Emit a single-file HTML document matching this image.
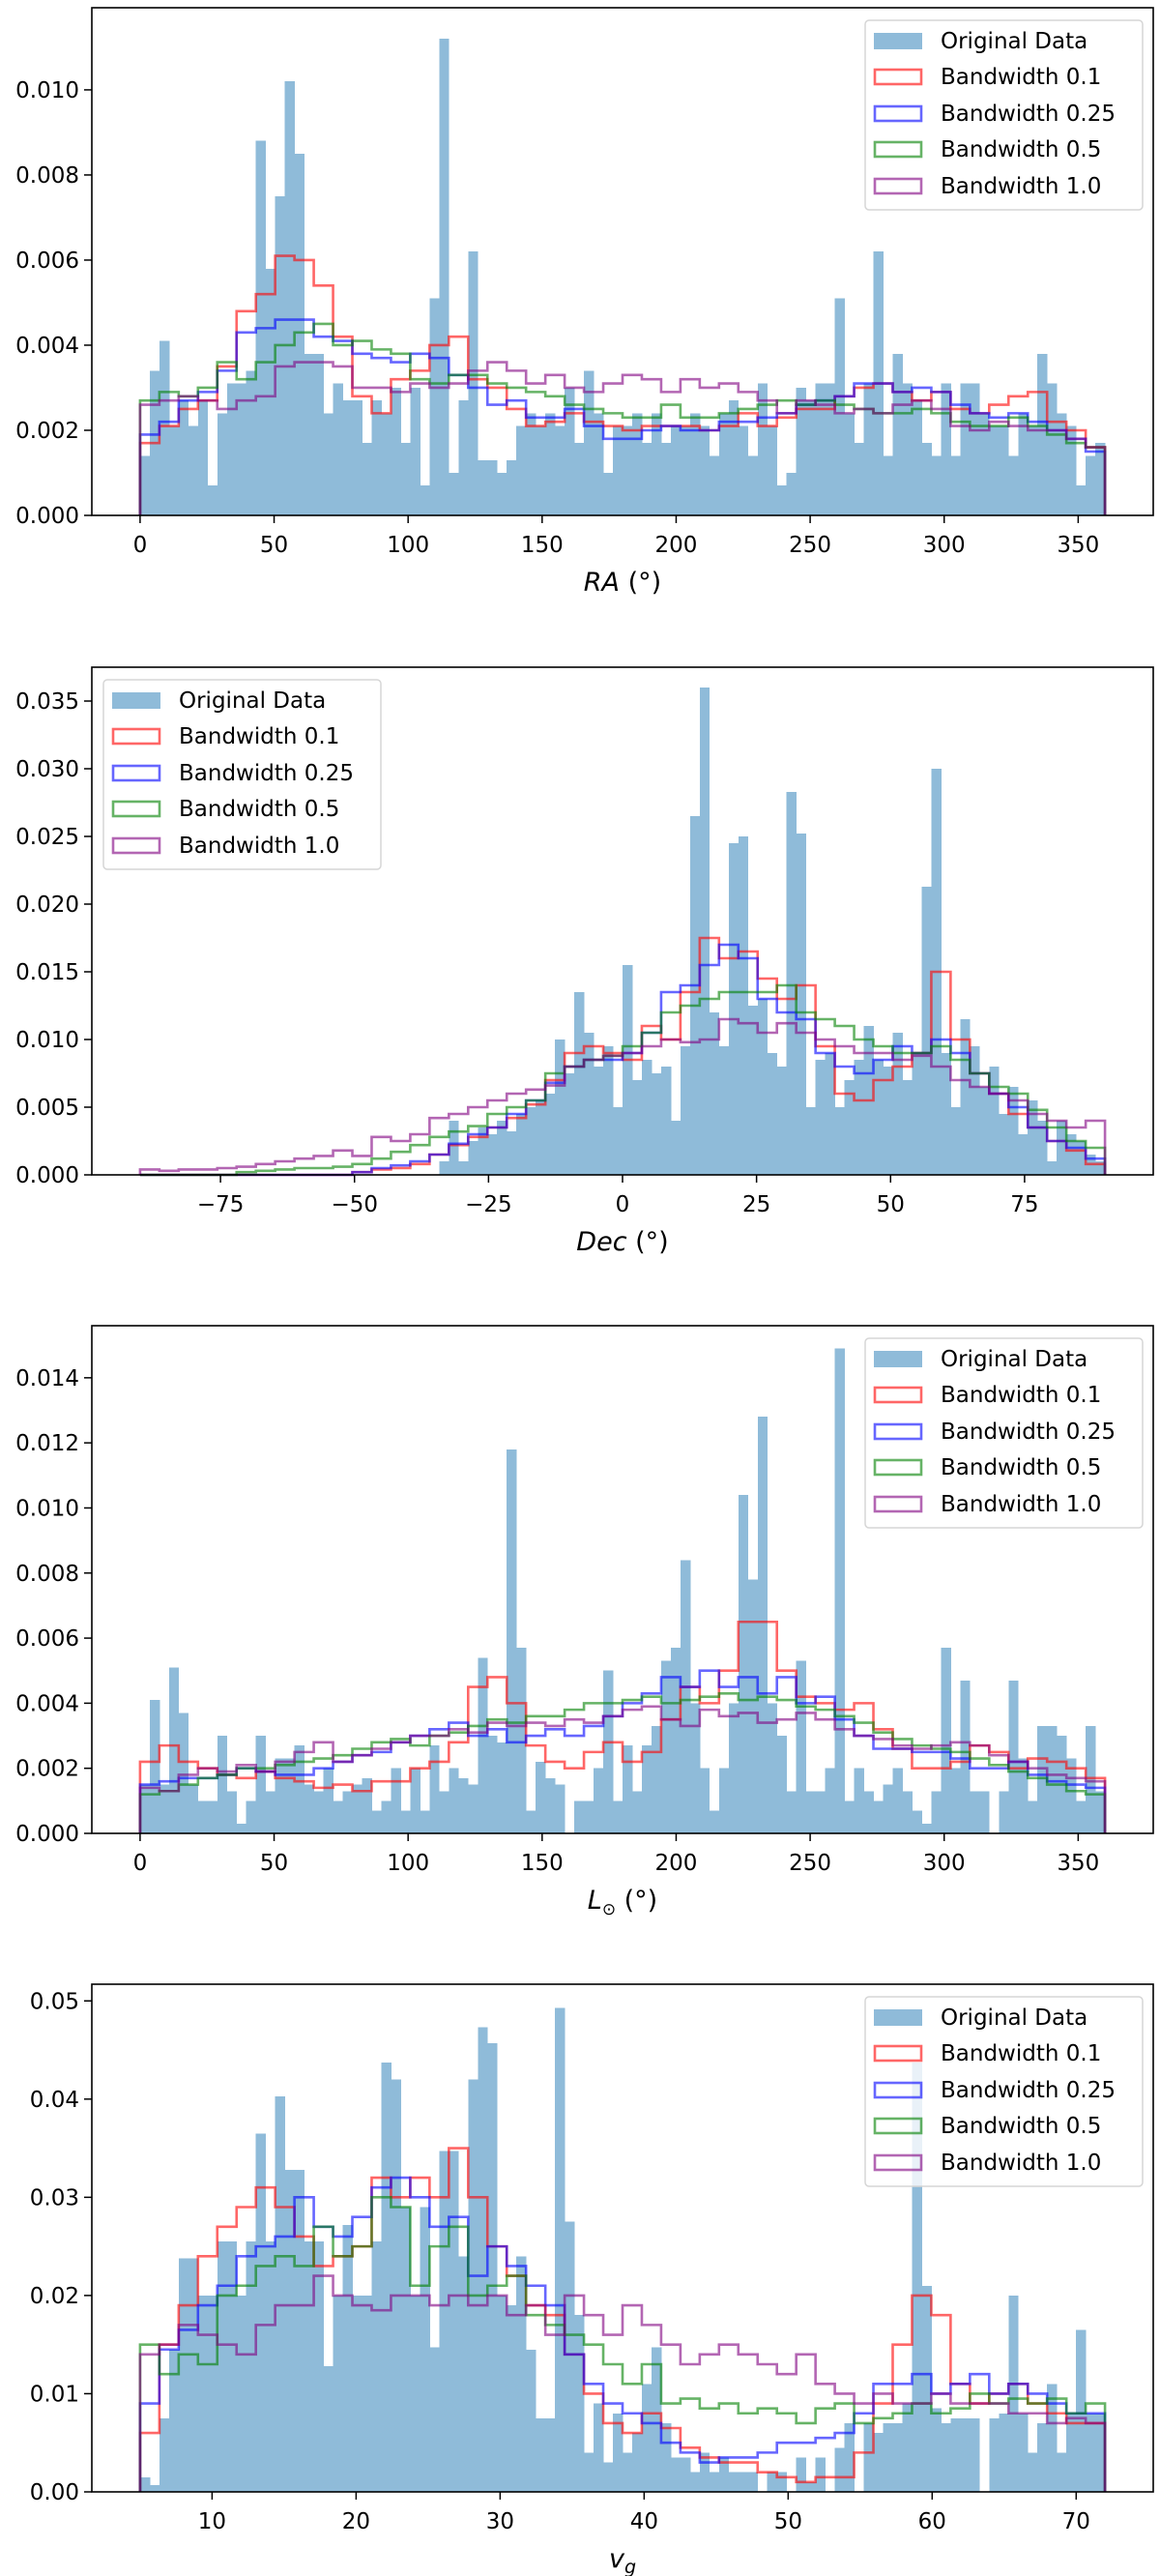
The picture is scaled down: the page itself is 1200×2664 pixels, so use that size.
<!DOCTYPE html>
<html><head><meta charset="utf-8"><title>KDE bandwidth histograms</title>
<style>
html,body{margin:0;padding:0;background:#fff;}
svg{display:block;font-family:"DejaVu Sans","Liberation Sans",sans-serif;}
</style></head>
<body>
<svg id="fig" width="1200" height="2664" viewBox="0 0 1200 2664" xmlns="http://www.w3.org/2000/svg"></svg>
<script>
// ---------- Panel 1: RA ----------
const raBars = [0.0014,0.0034,0.0041,0.0021,0.0027,0.0021,0.0027,0.0007,0.0024,0.0031,0.0031,0.0034,
0.0088,0.0058,0.0075,0.0102,0.0085,
0.0038,0.0038,0.0024,0.0031,0.0027,0.0027,0.0017,0.0027,0.0024,0.0030,0.0017,0.0030,
0.0007,0.0051,0.0112,0.0010,0.0027,0.0062,
0.0013,0.0013,0.0010,0.0013,0.0021,0.0024,0.0021,0.0024,0.0021,0.0030,0.0017,0.0034,0.0024,0.0010,0.0021,0.0021,0.0024,0.0017,0.0024,0.0017,0.0021,0.0021,0.0024,0.0021,0.0014,0.0024,0.0027,0.0021,0.0014,
0.0031,0.0021,0.0007,0.0010,0.0030,0.0027,0.0031,0.0031,0.0051,0.0024,0.0017,0.0031,0.0062,0.0014,0.0038,0.0031,0.0027,0.0017,0.0014,0.0031,0.0014,0.0031,0.0031,0.0024,0.0021,0.0021,0.0014,0.0024,0.0021,0.0038,0.0031,0.0024,0.0021,0.0007,0.0014,0.0017];
const raRed = [0.0017,0.0021,0.0025,0.0027,0.0035,0.0048,0.0052,0.0061,0.0060,0.0054,0.0042,0.0028,0.0024,0.0032,0.0034,0.0040,0.0042,0.0032,0.0030,0.0025,0.0021,0.0022,0.0024,0.0022,0.0021,0.0020,0.0021,0.0021,0.0021,0.0020,0.0021,0.0024,0.0021,0.0023,0.0025,0.0025,0.0028,0.0030,0.0031,0.0029,0.0027,0.0029,0.0025,0.0024,0.0026,0.0028,0.0029,0.0022,0.0020,0.0016];
const raBlue = [0.0019,0.0022,0.0027,0.0029,0.0034,0.0043,0.0044,0.0046,0.0046,0.0042,0.0041,0.0038,0.0037,0.0036,0.0038,0.0037,0.0033,0.0030,0.0026,0.0027,0.0023,0.0023,0.0025,0.0021,0.0018,0.0018,0.0020,0.0021,0.0020,0.0020,0.0022,0.0022,0.0023,0.0024,0.0026,0.0027,0.0028,0.0031,0.0031,0.0029,0.0030,0.0029,0.0026,0.0024,0.0023,0.0024,0.0022,0.0020,0.0018,0.0015];
const raGreen = [0.0027,0.0029,0.0028,0.0030,0.0036,0.0032,0.0036,0.0040,0.0043,0.0045,0.0040,0.0041,0.0039,0.0038,0.0032,0.0031,0.0033,0.0033,0.0031,0.0030,0.0029,0.0028,0.0026,0.0025,0.0024,0.0023,0.0023,0.0026,0.0023,0.0023,0.0024,0.0025,0.0026,0.0027,0.0026,0.0027,0.0026,0.0025,0.0024,0.0024,0.0025,0.0024,0.0022,0.0021,0.0021,0.0023,0.0021,0.0019,0.0017,0.0016];
const raPurple = [0.0026,0.0027,0.0028,0.0027,0.0025,0.0027,0.0028,0.0035,0.0036,0.0036,0.0035,0.0030,0.0030,0.0029,0.0031,0.0030,0.0031,0.0034,0.0036,0.0034,0.0031,0.0033,0.0030,0.0029,0.0031,0.0033,0.0032,0.0029,0.0032,0.0030,0.0031,0.0029,0.0027,0.0024,0.0027,0.0026,0.0024,0.0025,0.0024,0.0026,0.0027,0.0025,0.0021,0.0020,0.0022,0.0021,0.0020,0.0020,0.0018,0.0016];
const raYTicks = [0,0.002,0.004,0.006,0.008,0.010];
const raYTickLabels = ["0.000","0.002","0.004","0.006","0.008","0.010"];
const raXTicks = [0,50,100,150,200,250,300,350];
const raXTickLabels = ["0","50","100","150","200","250","300","350"];

// ---------- Panel 2: Dec ----------
const decBars = [0,0,0,0,0,0,0,0,0,0,0,0,0,0,0,0,0,0,0,0,0,0,0,0,0,0,0,0,0,0,0,
0.0010,0.0040,0.0010,0.0025,0.0035,0.0030,0.0040,0.0032,0.0045,0.0050,0.0055,0.0060,0.0100,0.0075,0.0135,0.0105,0.0080,0.0095,
0.0050,0.0155,0.0070,0.0085,0.0075,0.0080,0.0040,0.0095,0.0265,0.0360,0.0120,0.0095,0.0245,0.0250,0.0125,0.0130,0.0090,0.0080,0.0283,0.0252,0.0050,0.0085,0.0090,0.0050,0.0070,0.0085,0.0110,0.0085,0.0080,0.0105,0.0070,0.0090,0.0213,0.0300,0.0090,0.0050,0.0115,0.0095,0.0065,0.0080,0.0045,0.0065,0.0030,0.0055,0.0040,0.0010,0.0040,0.0030,0.0025,0.0015,0.0010];
const decRed = [0,0,0,0,0,0,0,0,0,0,0,0.0002,0.0004,0.0005,0.0008,0.0015,0.0022,0.0028,0.0035,0.0042,0.0052,0.0070,0.0090,0.0095,0.0090,0.0085,0.0110,0.0100,0.0135,0.0175,0.0160,0.0165,0.0145,0.0130,0.0140,0.0095,0.0060,0.0055,0.0070,0.0080,0.0090,0.0150,0.0100,0.0075,0.0060,0.0045,0.0035,0.0025,0.0018,0.0008];
const decBlue = [0,0,0,0,0,0,0,0,0,0,0,0.0002,0.0005,0.0007,0.0010,0.0015,0.0023,0.0030,0.0035,0.0045,0.0055,0.0068,0.0080,0.0085,0.0085,0.0090,0.0105,0.0135,0.0140,0.0155,0.0170,0.0160,0.0130,0.0120,0.0115,0.0090,0.0080,0.0075,0.0085,0.0095,0.0090,0.0100,0.0090,0.0075,0.0060,0.0050,0.0035,0.0025,0.0020,0.0012];
const decGreen = [0,0,0,0,0,0.0002,0.0003,0.0004,0.0005,0.0005,0.0006,0.0008,0.0012,0.0017,0.0022,0.0028,0.0032,0.0036,0.0045,0.0050,0.0055,0.0075,0.0080,0.0085,0.0088,0.0095,0.0105,0.0120,0.0125,0.0130,0.0135,0.0135,0.0135,0.0140,0.0120,0.0115,0.0110,0.0100,0.0095,0.0090,0.0090,0.0095,0.0085,0.0075,0.0065,0.0060,0.0048,0.0035,0.0025,0.0020];
const decPurple = [0.0004,0.0003,0.0004,0.0004,0.0005,0.0006,0.0008,0.0010,0.0012,0.0014,0.0018,0.0014,0.0028,0.0025,0.0030,0.0042,0.0045,0.0050,0.0055,0.0060,0.0063,0.0066,0.0080,0.0085,0.0088,0.0090,0.0095,0.0100,0.0098,0.0100,0.0115,0.0112,0.0105,0.0112,0.0105,0.0100,0.0095,0.0090,0.0090,0.0085,0.0088,0.0080,0.0070,0.0065,0.0060,0.0055,0.0045,0.0040,0.0035,0.0040];
const decYTicks = [0,0.005,0.010,0.015,0.020,0.025,0.030,0.035];
const decYTickLabels = ["0.000","0.005","0.010","0.015","0.020","0.025","0.030","0.035"];
const decXTicks = [-75,-50,-25,0,25,50,75];
const decXTickLabels = ["\u221275","\u221250","\u221225","0","25","50","75"];

// ---------- Panel 3: L_sun ----------
const lBars = [0.0015,0.0041,0.0015,0.0051,0.0037,0.0015,0.0010,0.0010,0.0030,0.0013,0.0003,0.0010,0.0030,0.0013,0.0023,0.0023,0.0027,0.0015,0.0013,0.0020,0.0010,0.0013,0.0015,0.0017,0.0007,0.0010,0.0020,0.0007,0.0020,0.0007,0.0027,0.0013,0.0020,0.0017,0.0015,0.0054,0.0030,0.0028,0.0118,0.0057,0.0007,0.0022,0.0017,0.0015,0.0000,0.0010,0.0010,0.0020,0.0050,0.0010,0.0027,0.0013,0.0027,0.0033,0.0053,0.0057,0.0084,0.0040,0.0020,0.0007,0.0020,0.0040,0.0104,0.0078,0.0128,0.0040,0.0030,0.0013,0.0053,0.0013,0.0013,0.0020,0.0149,0.0010,0.0020,0.0013,0.0010,0.0015,0.0020,0.0013,0.0007,0.0003,0.0013,0.0057,0.0020,0.0047,0.0013,0.0013,0.0000,0.0013,0.0047,0.0023,0.0010,0.0033,0.0033,0.0030,0.0023,0.0010,0.0033,0.0013];
const lRed = [0.0022,0.0027,0.0022,0.0020,0.0018,0.0017,0.0019,0.0017,0.0016,0.0014,0.0015,0.0013,0.0016,0.0016,0.0020,0.0022,0.0028,0.0045,0.0048,0.0040,0.0027,0.0022,0.0020,0.0025,0.0028,0.0022,0.0025,0.0035,0.0045,0.0040,0.0050,0.0065,0.0065,0.0050,0.0042,0.0040,0.0038,0.0040,0.0032,0.0026,0.0020,0.0020,0.0022,0.0027,0.0025,0.0020,0.0023,0.0022,0.0020,0.0017];
const lBlue = [0.0015,0.0016,0.0017,0.0017,0.0018,0.0020,0.0019,0.0018,0.0018,0.0020,0.0022,0.0024,0.0025,0.0028,0.0030,0.0032,0.0034,0.0030,0.0032,0.0028,0.0030,0.0032,0.0030,0.0033,0.0036,0.0040,0.0043,0.0048,0.0045,0.0050,0.0045,0.0048,0.0043,0.0048,0.0040,0.0042,0.0035,0.0030,0.0026,0.0026,0.0025,0.0025,0.0023,0.0020,0.0020,0.0022,0.0018,0.0016,0.0015,0.0014];
const lGreen = [0.0012,0.0013,0.0015,0.0017,0.0018,0.0020,0.0020,0.0021,0.0022,0.0023,0.0024,0.0026,0.0028,0.0029,0.0027,0.0030,0.0031,0.0033,0.0035,0.0034,0.0036,0.0036,0.0038,0.0040,0.0040,0.0041,0.0042,0.0040,0.0041,0.0042,0.0043,0.0041,0.0042,0.0041,0.0039,0.0038,0.0036,0.0034,0.0031,0.0029,0.0027,0.0026,0.0025,0.0023,0.0021,0.0019,0.0017,0.0015,0.0013,0.0012];
const lPurple = [0.0014,0.0013,0.0018,0.0020,0.0019,0.0021,0.0019,0.0022,0.0025,0.0028,0.0022,0.0024,0.0026,0.0028,0.0030,0.0030,0.0032,0.0031,0.0034,0.0033,0.0034,0.0033,0.0035,0.0034,0.0036,0.0038,0.0039,0.0035,0.0033,0.0038,0.0036,0.0037,0.0034,0.0035,0.0037,0.0035,0.0032,0.0030,0.0029,0.0027,0.0026,0.0027,0.0028,0.0027,0.0024,0.0022,0.0020,0.0018,0.0017,0.0016];
const lYTicks = [0,0.002,0.004,0.006,0.008,0.010,0.012,0.014];
const lYTickLabels = ["0.000","0.002","0.004","0.006","0.008","0.010","0.012","0.014"];
const lXTicks = [0,50,100,150,200,250,300,350];
const lXTickLabels = ["0","50","100","150","200","250","300","350"];

// ---------- Panel 4: v_g ----------
const vgBars = [0.0015,0.0007,0.0075,0.0145,0.0238,0.0238,0.0200,0.0200,0.0255,0.0255,0.0200,0.0255,0.0365,0.0255,0.0403,0.0328,0.0328,0.0255,0.0255,0.0128,0.0200,0.0272,0.0200,0.0200,0.0255,0.0437,0.0420,0.0290,0.0200,0.0290,0.0147,0.0347,0.0347,0.0240,0.0420,0.0473,0.0457,0.0200,0.0190,0.0240,0.0145,0.0075,0.0075,0.0493,0.0275,0.0180,0.0040,0.0090,0.0030,0.0080,0.0040,0.0060,0.0110,0.0147,0.0070,0.0035,0.0035,0.0020,0.0040,0.0020,0.0035,0.0020,0.0020,0.0020,0,0.0020,0.0020,0,0.0035,0.0010,0.0035,0,0.0045,0.0070,0,0.0070,0.0060,0.0070,0.0070,0.0090,0.0437,0.0210,0.0085,0.0070,0.0075,0.0075,0.0075,0,0.0075,0.0080,0.0200,0.0080,0.0040,0.0070,0.0110,0.0040,0.0080,0.0165,0.0080,0.0080];
const vgRed = [0.006,0.015,0.019,0.024,0.027,0.029,0.031,0.029,0.026,0.023,0.024,0.025,0.032,0.030,0.032,0.030,0.035,0.030,0.025,0.022,0.019,0.018,0.014,0.010,0.007,0.006,0.008,0.0065,0.0045,0.0035,0.003,0.003,0.002,0.0015,0.001,0.0015,0.0015,0.004,0.009,0.015,0.020,0.018,0.011,0.009,0.010,0.011,0.009,0.008,0.007,0.007];
const vgBlue = [0.009,0.0145,0.0165,0.019,0.021,0.024,0.025,0.026,0.030,0.027,0.026,0.028,0.031,0.032,0.030,0.027,0.028,0.022,0.025,0.023,0.021,0.019,0.014,0.011,0.009,0.008,0.007,0.005,0.004,0.003,0.0035,0.0035,0.004,0.005,0.005,0.0055,0.006,0.008,0.011,0.011,0.012,0.010,0.011,0.012,0.010,0.011,0.010,0.009,0.008,0.008];
const vgGreen = [0.015,0.012,0.014,0.013,0.020,0.021,0.023,0.024,0.023,0.027,0.024,0.025,0.030,0.029,0.021,0.025,0.027,0.020,0.021,0.022,0.018,0.017,0.016,0.015,0.013,0.011,0.013,0.009,0.0095,0.0085,0.009,0.008,0.0085,0.008,0.007,0.0085,0.009,0.007,0.0075,0.008,0.009,0.008,0.0085,0.010,0.009,0.0095,0.009,0.0095,0.008,0.009];
const vgPurple = [0.014,0.015,0.017,0.016,0.015,0.014,0.017,0.019,0.019,0.022,0.020,0.019,0.0185,0.020,0.020,0.019,0.020,0.019,0.020,0.018,0.019,0.016,0.020,0.018,0.016,0.019,0.017,0.015,0.013,0.014,0.015,0.014,0.013,0.012,0.014,0.011,0.010,0.009,0.010,0.009,0.009,0.010,0.009,0.009,0.009,0.008,0.008,0.007,0.0075,0.007];
const vgYTicks = [0,0.01,0.02,0.03,0.04,0.05];
const vgYTickLabels = ["0.00","0.01","0.02","0.03","0.04","0.05"];
const vgXTicks = [10,20,30,40,50,60,70];
const vgXTickLabels = ["10","20","30","40","50","60","70"];

const legendLabels = ["Original Data","Bandwidth 0.1","Bandwidth 0.25","Bandwidth 0.5","Bandwidth 1.0"];

const NS = "http://www.w3.org/2000/svg";
const fig = document.getElementById('fig');
function mk(tag, attrs, parent){
  const e = document.createElementNS(NS, tag);
  for (const k in attrs) e.setAttribute(k, attrs[k]);
  (parent||fig).appendChild(e);
  return e;
}

const lineColors = ["rgba(255,0,0,0.6)","rgba(0,0,255,0.6)","rgba(0,128,0,0.6)","rgba(128,0,128,0.6)"];
const lineNames = ["bw-0.1","bw-0.25","bw-0.5","bw-1.0"];

function drawPanel(cfg){
  const L = 95, R = 1193, T = cfg.top, B = cfg.top + 525;
  const pad = (cfg.dmax - cfg.dmin) * 0.05;
  const xmin = cfg.dmin - pad, xmax = cfg.dmax + pad;
  const xS = v => L + (v - xmin) / (xmax - xmin) * (R - L);
  const yS = v => B - v / cfg.ymax * (B - T);
  const g = mk('g', {});
  
  

  const bg = mk('g', {'shape-rendering':'crispEdges'}, g);
  
  
  const nb = cfg.bars.length, bw = (cfg.dmax - cfg.dmin) / nb;
  cfg.bars.forEach((v, i) => {
    if (v <= 0) return;
    const x0 = xS(cfg.dmin + i * bw), x1 = xS(cfg.dmin + (i + 1) * bw);
    const r = mk('rect', {x:x0.toFixed(2), y:yS(v).toFixed(2), width:(x1 - x0 + 0.4).toFixed(2), height:(B - yS(v)).toFixed(2), fill:'#8fbbd9'}, bg);
    
    
  });

  cfg.lines.forEach((arr, k) => {
    const n = arr.length, w = (cfg.dmax - cfg.dmin) / n;
    let d = 'M' + xS(cfg.dmin).toFixed(2) + ',' + B;
    arr.forEach((v, i) => {
      d += ' V' + yS(v).toFixed(2) + ' H' + xS(cfg.dmin + (i + 1) * w).toFixed(2);
    });
    d += ' V' + B;
    const p = mk('path', {d:d, fill:'none', stroke:lineColors[k], 'stroke-width':2.6, 'stroke-linejoin':'miter'}, g);
    
    
  });

  const fr = mk('rect', {x:L, y:T, width:R - L, height:B - T, fill:'none', stroke:'#000', 'stroke-width':1.6}, g);
  
  

  cfg.yticks.forEach((v, i) => {
    const y = yS(v);
    mk('line', {x1:L - 8, x2:L, y1:y, y2:y, stroke:'#000', 'stroke-width':1.5}, g);
    const t = mk('text', {x:L - 13, y:y + 8, 'text-anchor':'end', 'font-size':23, fill:'#000'}, g);
    t.textContent = cfg.ytickLabels[i];
    
    
  });
  cfg.xticks.forEach((v, i) => {
    const x = xS(v);
    mk('line', {x1:x, x2:x, y1:B, y2:B + 8, stroke:'#000', 'stroke-width':1.5}, g);
    const t = mk('text', {x:x, y:B + 38, 'text-anchor':'middle', 'font-size':23, fill:'#000'}, g);
    t.textContent = cfg.xtickLabels[i];
    
    
  });
  const xl = mk('text', {x:(L + R) / 2, y:B + 78, 'text-anchor':'middle', 'font-size':27, fill:'#000'}, g);
  xl.innerHTML = cfg.xlabel;
  
  

  const lx = cfg.legendX, ly = T + 13;
  const lg = mk('g', {}, g);
  
  
  mk('rect', {x:lx, y:ly, width:287, height:196, rx:4, fill:'rgba(255,255,255,0.8)', stroke:'#d6d6d6', 'stroke-width':1.5}, lg);
  const rowsY = [21, 58, 96, 133, 171];
  legendLabels.forEach((lab, i) => {
    const cy = ly + rowsY[i];
    if (i === 0) {
      mk('rect', {x:lx + 9, y:cy - 8, width:50, height:17, fill:'#8fbbd9'}, lg);
    } else {
      mk('rect', {x:lx + 10, y:cy - 7, width:48, height:15, fill:'none', stroke:lineColors[i - 1], 'stroke-width':2.6}, lg);
    }
    const t = mk('text', {x:lx + 78, y:cy + 8, 'font-size':23, fill:'#000'}, lg);
    t.textContent = lab;
    
    
  });
}

drawPanel({name:'ra', top:8, dmin:0, dmax:360, ymax:0.01193, bars:raBars, lines:[raRed,raBlue,raGreen,raPurple],
  yticks:raYTicks, ytickLabels:raYTickLabels, xticks:raXTicks, xtickLabels:raXTickLabels,
  xlabel:'<tspan font-style="italic">RA</tspan> (°)', legendX:895});
drawPanel({name:'dec', top:690, dmin:-90, dmax:90, ymax:0.0375, bars:decBars, lines:[decRed,decBlue,decGreen,decPurple],
  yticks:decYTicks, ytickLabels:decYTickLabels, xticks:decXTicks, xtickLabels:decXTickLabels,
  xlabel:'<tspan font-style="italic">Dec</tspan> (°)', legendX:107});
drawPanel({name:'lsun', top:1371, dmin:0, dmax:360, ymax:0.0156, bars:lBars, lines:[lRed,lBlue,lGreen,lPurple],
  yticks:lYTicks, ytickLabels:lYTickLabels, xticks:lXTicks, xtickLabels:lXTickLabels,
  xlabel:'<tspan font-style="italic">L</tspan><tspan font-size="17" dy="6">⊙</tspan><tspan dy="-6"> (°)</tspan>', legendX:895});
drawPanel({name:'vg', top:2052, dmin:5, dmax:72, ymax:0.0517, bars:vgBars, lines:[vgRed,vgBlue,vgGreen,vgPurple],
  yticks:vgYTicks, ytickLabels:vgYTickLabels, xticks:vgXTicks, xtickLabels:vgXTickLabels,
  xlabel:'<tspan font-style="italic">v</tspan><tspan font-style="italic" font-size="19" dy="6">g</tspan>', legendX:895});
</script>
</body></html>
